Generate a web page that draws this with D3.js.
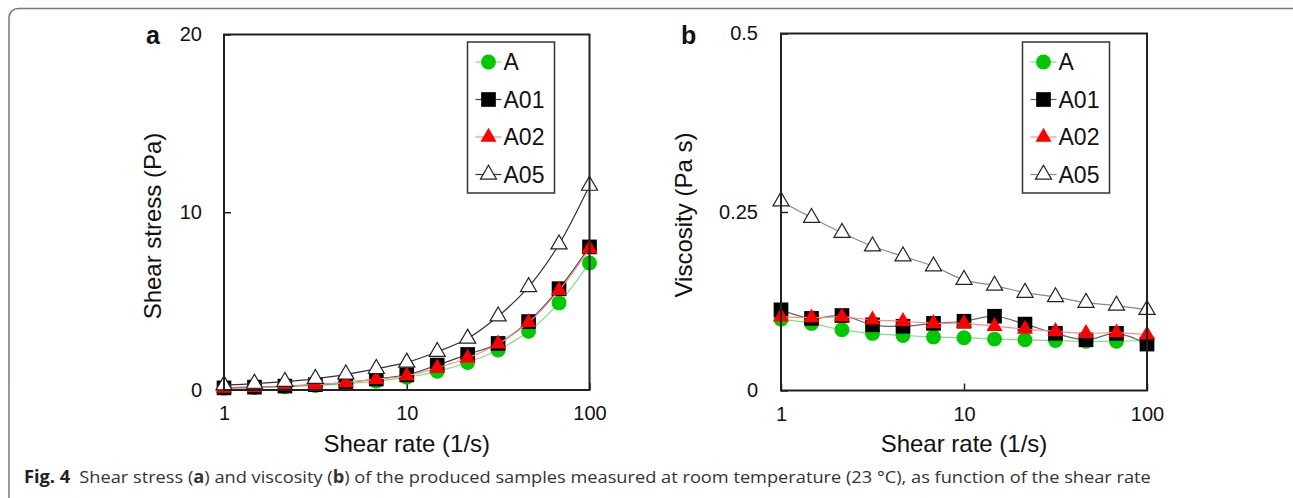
<!DOCTYPE html>
<html>
<head>
<meta charset="utf-8">
<script src="https://cdn.jsdelivr.net/npm/d3@7"></script>
<style>
  body { margin: 0; background: #fff; }
  svg { display: block; font-family: "Liberation Sans", Arial, sans-serif; }
  .tick line { stroke: #222; stroke-width: 1.5; }
  .tick text { font-size: 20px; fill: #111; }
</style>
</head>
<body>
<script>
// shear rates (1/s), 6 points per decade
var rates = [1, 1.468, 2.154, 3.162, 4.642, 6.813, 10, 14.68, 21.54, 31.62, 46.42, 68.13, 100]
var seriesNames = ["A", "A01", "A02", "A05"]

// panel a: shear stress (Pa)
var stressA   = [0.10, 0.14, 0.18, 0.25, 0.35, 0.50, 0.72, 1.05, 1.55, 2.25, 3.30, 4.90, 7.15]
var stressA01 = [0.12, 0.16, 0.22, 0.30, 0.42, 0.62, 0.85, 1.40, 2.00, 2.62, 3.85, 5.70, 8.05]
var stressA02 = [0.10, 0.13, 0.20, 0.30, 0.42, 0.60, 0.80, 1.25, 1.80, 2.60, 3.80, 5.60, 7.95]
var stressA05 = [0.27, 0.36, 0.47, 0.63, 0.88, 1.19, 1.55, 2.15, 2.90, 4.15, 5.80, 8.20, 11.50]

// panel b: viscosity (Pa s)
var viscA   = [0.100, 0.094, 0.085, 0.080, 0.077, 0.075, 0.074, 0.072, 0.071, 0.070, 0.069, 0.069, 0.070]
var viscA01 = [0.113, 0.101, 0.105, 0.092, 0.090, 0.094, 0.097, 0.104, 0.093, 0.080, 0.071, 0.080, 0.065]
var viscA02 = [0.103, 0.102, 0.103, 0.099, 0.097, 0.094, 0.094, 0.090, 0.086, 0.083, 0.080, 0.081, 0.078]
var viscA05 = [0.265, 0.242, 0.221, 0.202, 0.188, 0.174, 0.155, 0.147, 0.137, 0.131, 0.123, 0.119, 0.113]

var xTicks = [1, 10, 100]
var stressTicks = [0, 10, 20]
var viscTicks = [0, 0.25, 0.5]

var svg = d3.select("body").append("svg")
  .attr("width", 1293)
  .attr("height", 498)

// outer figure frame (rounded, cut off at right and bottom)
svg.append("rect")
  .attr("x", 9).attr("y", 8.5)
  .attr("width", 1292).attr("height", 500)
  .attr("rx", 9)
  .attr("fill", "none")
  .attr("stroke", "#777")
  .attr("stroke-width", 1.5)

// marker + line styles per series
var styles = {
  "A":   {sym: d3.symbolCircle,   size: 175, fill: "#00c800", stroke: "none", line: ["#7ee07e", "#7ee07e"]},
  "A01": {sym: d3.symbolSquare,   size: 215, fill: "#000",    stroke: "none", line: ["#444", "#666"]},
  "A02": {sym: d3.symbolTriangle, size: 112, fill: "#ff0000", stroke: "none", line: ["#ff8a8a", "#ff8a8a"]},
  "A05": {sym: d3.symbolTriangle, size: 112, fill: "#fff",    stroke: "#222", line: ["#333", "#888"]}
}

function drawPanel(p)
{
  var x = d3.scaleLog().domain([1, 100]).range([p.left, p.right])
  var y = d3.scaleLinear().domain(p.domain).range([p.bottom, p.top])
  var g = svg.append("g")

  g.append("g")
    .attr("transform", "translate(0," + p.bottom + ")")
    .call(d3.axisBottom(x).tickValues(xTicks).tickFormat(d3.format("d"))
      .tickSizeInner(-7).tickSizeOuter(0).tickPadding(16))
    .select(".domain").remove()

  g.append("g")
    .attr("transform", "translate(" + p.left + ",0)")
    .call(d3.axisLeft(y).tickValues(p.ticks).tickFormat(function(d) { return String(d) })
      .tickSizeInner(-7).tickSizeOuter(0).tickPadding(p.ypad))
    .select(".domain").remove()

  // series
  var line = d3.line()
    .x(function(d) { return x(d[0]) })
    .y(function(d) { return y(d[1]) })
    .curve(d3.curveCatmullRom.alpha(0.5))

  p.series.forEach(function(vals, i)
  {
    var st = styles[seriesNames[i]]
    var pts = rates.map(function(r, j) { return [r, vals[j]] })
    g.append("path")
      .attr("d", line(pts))
      .attr("fill", "none")
      .attr("stroke", st.line[p.idx])
      .attr("stroke-width", 1.2)
    g.selectAll(null)
      .data(pts)
      .enter()
      .append("path")
      .attr("d", d3.symbol().type(st.sym).size(st.size))
      .attr("transform", function(d) { return "translate(" + x(d[0]) + "," + y(d[1]) + ")" })
      .attr("fill", st.fill)
      .attr("stroke", st.stroke)
      .attr("stroke-width", 1.2)
  })

  // plot frame
  g.append("rect")
    .attr("x", p.left).attr("y", p.top)
    .attr("width", p.right - p.left).attr("height", p.bottom - p.top)
    .attr("fill", "none")
    .attr("stroke", "#222")
    .attr("stroke-width", 2)

  // axis titles
  g.append("text")
    .attr("x", (p.left + p.right) / 2).attr("y", 452)
    .attr("text-anchor", "middle")
    .attr("font-size", 24)
    .attr("fill", "#111")
    .text("Shear rate (1/s)")

  g.append("text")
    .attr("transform", "translate(" + p.ytx + "," + p.yty + ") rotate(-90)")
    .attr("text-anchor", "middle")
    .attr("font-size", 24)
    .attr("fill", "#111")
    .text(p.ytitle)

  // panel letter
  g.append("text")
    .attr("x", p.letterX).attr("y", 44)
    .attr("font-size", 25)
    .attr("font-weight", "bold")
    .attr("fill", "#111")
    .text(p.letter)

  // legend
  var lg = g.append("g").attr("transform", "translate(" + p.legX + ",42)")
  lg.append("rect")
    .attr("width", 87).attr("height", 151)
    .attr("fill", "#fff")
    .attr("stroke", "#333")
    .attr("stroke-width", 1.5)
  seriesNames.forEach(function(name, i)
  {
    var st = styles[name]
    var row = lg.append("g").attr("transform", "translate(0," + (20 + i * 37.5) + ")")
    row.append("line")
      .attr("x1", 8).attr("x2", 34)
      .attr("stroke", st.line[p.idx])
      .attr("stroke-width", 1.2)
    row.append("path")
      .attr("d", d3.symbol().type(st.sym).size(st.size))
      .attr("transform", "translate(21,0)")
      .attr("fill", st.fill)
      .attr("stroke", st.stroke)
      .attr("stroke-width", 1.2)
    row.append("text")
      .attr("x", 36).attr("y", 8)
      .attr("font-size", 23)
      .attr("fill", "#111")
      .text(name)
  })
}

drawPanel({idx: 0, left: 224, right: 589.5, top: 34.5, bottom: 390, domain: [0, 20],
  ticks: stressTicks, ypad: 22, series: [stressA, stressA01, stressA02, stressA05],
  ytitle: "Shear stress (Pa)", ytx: 161, yty: 226, letter: "a", letterX: 146, legX: 467.5})

drawPanel({idx: 1, left: 781, right: 1147, top: 33.5, bottom: 390.5, domain: [0, 0.5],
  ticks: viscTicks, ypad: 23, series: [viscA, viscA01, viscA02, viscA05],
  ytitle: "Viscosity (Pa s)", ytx: 692, yty: 215, letter: "b", letterX: 681, legX: 1022.5})

// caption
var cap = svg.append("text")
  .attr("font-family", "'Open Sans', 'Noto Sans', sans-serif")
  .attr("font-size", 17)
  .attr("fill", "#333")
cap.append("tspan").attr("font-weight", "bold").attr("fill", "#222").text("Fig. 4")
cap.append("tspan").text("\u2002Shear stress (")
cap.append("tspan").attr("font-weight", "bold").text("a")
cap.append("tspan").text(") and viscosity (")
cap.append("tspan").attr("font-weight", "bold").text("b")
cap.append("tspan").text(") of the produced samples measured at room temperature (23 \u00b0C), as function of the shear rate")
var capW = cap.node().getComputedTextLength()
cap.attr("transform", "translate(24,483) scale(" + (1128 / capW) + ",1)")
</script>
</body>
</html>
